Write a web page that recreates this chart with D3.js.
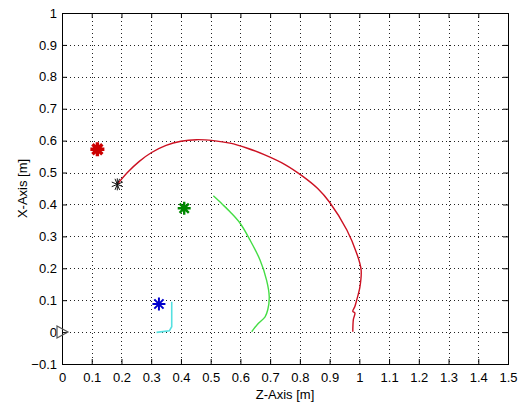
<!DOCTYPE html>
<html><head><meta charset="utf-8">
<script src="https://cdn.jsdelivr.net/npm/d3@7"></script>
<style>body{margin:0;background:#fff}text{font-family:"Liberation Sans",Arial,sans-serif}</style>
</head><body>
<svg id="c" width="526" height="408"></svg>
<script>
// Data (Z-axis value, X-axis value)
const xTicks = [0,0.1,0.2,0.3,0.4,0.5,0.6,0.7,0.8,0.9,1,1.1,1.2,1.3,1.4,1.5];
const yTicks = [-0.1,0,0.1,0.2,0.3,0.4,0.5,0.6,0.7,0.8,0.9,1];
const redZ = [0.186,0.22,0.26,0.30,0.35,0.40,0.453,0.509,0.565,0.621,0.68,0.75,0.81,0.86,0.90,0.958,0.991,1.006,1.002,0.991,0.985,0.978,0.985,0.98,0.978];
const redX = [0.463,0.50,0.535,0.562,0.585,0.598,0.603,0.600,0.592,0.577,0.556,0.525,0.488,0.45,0.407,0.32,0.247,0.195,0.142,0.10,0.08,0.065,0.06,0.04,0.001];
const greenZ = [0.509,0.54,0.565,0.599,0.632,0.666,0.688,0.697,0.692,0.683,0.66,0.645,0.638];
const greenX = [0.427,0.40,0.377,0.341,0.289,0.226,0.163,0.111,0.07,0.048,0.027,0.01,0.001];
const cyanZ = [0.369,0.369,0.361,0.318];
const cyanX = [0.095,0.017,0.004,-0.001];
const starNames = ["red","black","green","blue"];
const starZ = [0.119,0.186,0.411,0.326];
const starX = [0.573,0.463,0.388,0.088];
const startZ = [0];
const startX = [0];

const L=62,R=508,T=13,B=364;
const x = d3.scaleLinear().domain([0,1.5]).range([L,R]);
const y = d3.scaleLinear().domain([-0.1,1]).range([B,T]);
const svg = d3.select("#c");
const fmt = d => d===0?"0":(d===1?"1":d3.format("")(+d.toFixed(1)));

// grid
const g = svg.append("g");
g.selectAll(".gx").data(xTicks.slice(1,-1)).enter().append("line")
 .attr("x1",d=>Math.round(x(d))+0.5).attr("x2",d=>Math.round(x(d))+0.5).attr("y1",T).attr("y2",B)
 .attr("stroke","#222").attr("stroke-dasharray","1,3");
g.selectAll(".gy").data(yTicks.slice(1,-1)).enter().append("line")
 .attr("y1",d=>Math.round(y(d))+0.5).attr("y2",d=>Math.round(y(d))+0.5).attr("x1",L).attr("x2",R)
 .attr("stroke","#222").attr("stroke-dasharray","1,3");

// axes
const ax = d3.axisBottom(x).tickValues(xTicks).tickFormat(fmt).tickSizeInner(-5).tickSizeOuter(0).tickPadding(9);
const ay = d3.axisLeft(y).tickValues(yTicks).tickFormat(fmt).tickSizeInner(-5).tickSizeOuter(0).tickPadding(5);
const axT = d3.axisTop(x).tickValues(xTicks).tickFormat("").tickSizeInner(-5).tickSizeOuter(0);
const ayR = d3.axisRight(y).tickValues(yTicks).tickFormat("").tickSizeInner(-5).tickSizeOuter(0);
function style(sel){sel.select(".domain").remove();sel.selectAll("line").attr("stroke","#000");sel.selectAll("text").attr("font-size",13).attr("fill","#000").attr("font-family","Liberation Sans, Arial, sans-serif");}
svg.append("g").attr("transform",`translate(0,${B})`).call(ax).call(style);
svg.append("g").attr("transform",`translate(${L},0)`).call(ay).call(style);
svg.append("g").attr("transform",`translate(0,${T})`).call(axT).call(style);
svg.append("g").attr("transform",`translate(${R},0)`).call(ayR).call(style);
svg.append("rect").attr("x",L+0.5).attr("y",T+0.5).attr("width",R-L).attr("height",B-T).attr("fill","none").attr("stroke","#000");

// labels
svg.append("text").attr("x",(L+R)/2).attr("y",399).attr("text-anchor","middle").attr("font-size",13).text("Z-Axis [m]");
svg.append("text").attr("transform",`translate(27,${(T+B)/2}) rotate(-90)`).attr("text-anchor","middle").attr("font-size",13).text("X-Axis [m]");

// lines
const line = d3.line().x(d=>x(d[0])).y(d=>y(d[1])).curve(d3.curveCatmullRom);
const zip=(a,b)=>a.map((v,i)=>[v,b[i]]);
svg.append("path").attr("d",line(zip(redZ,redX))).attr("fill","none").attr("stroke","#cc1122").attr("stroke-width",1.4);
svg.append("path").attr("d",line(zip(greenZ,greenX))).attr("fill","none").attr("stroke","#44dd44").attr("stroke-width",1.4);
svg.append("path").attr("d",d3.line().x(d=>x(d[0])).y(d=>y(d[1]))(zip(cyanZ,cyanX))).attr("fill","none").attr("stroke","#55e0e0").attr("stroke-width",1.6);

// asterisk markers
const starStyle = {red:{c:"#cc0000",w:3.4,r:7,n:8},black:{c:"#111",w:1,r:6,n:8},green:{c:"#008800",w:2.4,r:6.5,n:8},blue:{c:"#0000cc",w:2,r:6.5,n:8}};
starNames.forEach((nm,i)=>{
  const s=starStyle[nm], cx=x(starZ[i]), cy=y(starX[i]);
  let p="";
  for(let k=0;k<s.n/2;k++){const a=Math.PI*k/(s.n/2);
    p+=`M${cx-s.r*Math.cos(a)},${cy-s.r*Math.sin(a)}L${cx+s.r*Math.cos(a)},${cy+s.r*Math.sin(a)}`;}
  if(nm==="black"){p="";for(let k=0;k<4;k++){const a=Math.PI*k/4+Math.PI/8;p+=`M${cx-s.r*Math.cos(a)},${cy-s.r*Math.sin(a)}L${cx+s.r*Math.cos(a)},${cy+s.r*Math.sin(a)}`;}p+=`M${cx},${cy-s.r}L${cx},${cy+s.r}`;}
  svg.append("path").attr("d",p).attr("stroke",s.c).attr("stroke-width",s.w).attr("fill","none");
});
// start triangle
startZ.forEach((z,i)=>{const cx=x(z),cy=y(startX[i]);
  svg.append("path").attr("d",`M${cx-5},${cy-6}L${cx+6},${cy}L${cx-5},${cy+6}Z`).attr("fill","none").attr("stroke","#555").attr("stroke-width",1.2);});
</script>
</body></html>
